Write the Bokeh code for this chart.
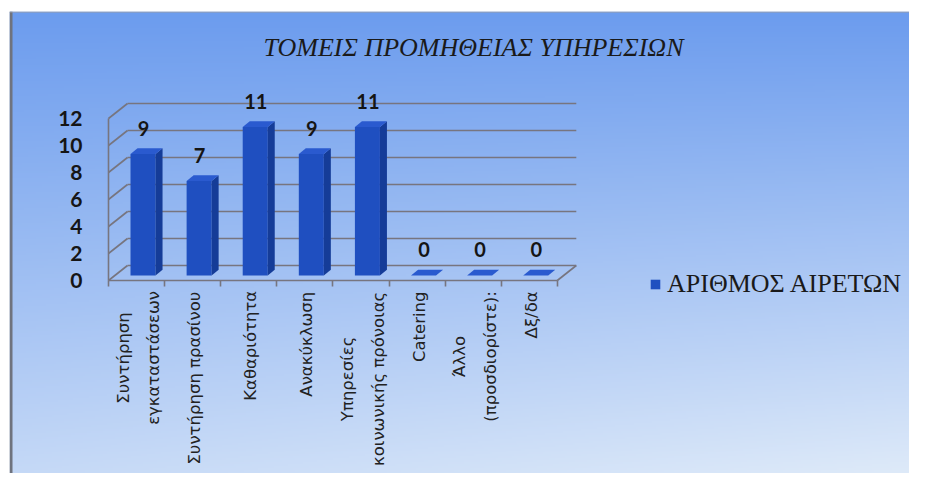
import unicodedata
import numpy as np
from math import pi
from bokeh.plotting import figure
from bokeh.models import FixedTicker, Legend, LegendItem, Span, LinearAxis
from bokeh.core.properties import value
from bokeh.embed import file_html
from bokeh.resources import INLINE

# ---------------- data ----------------
title_text = "ΤΟΜΕΙΣ ΠΡΟΜΗΘΕΙΑΣ ΥΠΗΡΕΣΙΩΝ"
categories = [
    "Συντήρηση\nεγκαταστάσεων",
    "Συντήρηση πρασίνου",
    "Καθαριότητα",
    "Ανακύκλωση",
    "Υπηρεσίες\nκοινωνικής πρόνοιας",
    "Catering",
    "Άλλο\n(προσδιορίστε):",
    "Δξ/δα",
]
counts = [9, 7, 11, 9, 11, 0, 0, 0]
y_ticks = [0, 2, 4, 6, 8, 10, 12]
series_name = "ΑΡΙΘΜΟΣ ΑΙΡΕΤΩΝ"

# ---------------- geometry (styles) ----------------
W, H = 909, 473
BL, BT = 9, 11
PX_X, PX_Y = 56.1, 13.5          # pixels per data unit
DX, DY = 19 / PX_X, 15 / PX_Y    # 3-D depth offset
F0, F1 = 0.34, 0.71              # bar depth span
BW = 25 / PX_X                   # bar width
LABEL_DX = 7 / PX_X              # data-label horizontal shift
SERIF = "Liberation Serif, Times New Roman, serif"
CAT_FONT_PX = 16.5
CAT_STANDOFF = 11

# approximate DejaVu Sans advance widths (em) used to centre rotated label blocks
_EM = {" ": 0.318, "(": 0.39, ")": 0.39, ":": 0.337, "/": 0.337,
       "C": 0.698, "a": 0.613, "t": 0.392, "e": 0.615, "r": 0.411, "i": 0.278, "n": 0.634, "g": 0.635,
       "α": 0.659, "β": 0.638, "γ": 0.592, "δ": 0.612, "ε": 0.541, "ζ": 0.544, "η": 0.634,
       "θ": 0.612, "ι": 0.338, "κ": 0.589, "λ": 0.592, "μ": 0.636, "ν": 0.592, "ξ": 0.544,
       "ο": 0.612, "π": 0.602, "ρ": 0.635, "ς": 0.55, "σ": 0.634, "τ": 0.559, "υ": 0.579,
       "φ": 0.815, "χ": 0.592, "ψ": 0.815, "ω": 0.838,
       "Α": 0.684, "Κ": 0.656, "Σ": 0.632, "Υ": 0.611, "Δ": 0.684}


def line_px(s):
    tot = 0.0
    for ch in s:
        base_ch = unicodedata.normalize("NFD", ch)[0]
        tot += _EM.get(base_ch, 0.6)
    return tot * CAT_FONT_PX


x0_px, y0_px = 108, 280          # canvas px of (0.5, 0)
x_start = 0.5 + (BL - x0_px) / PX_X
x_end = 0.5 + (W - x0_px) / PX_X
y_end = (y0_px - BT) / PX_Y
y_start = -(H - y0_px) / PX_Y

p = figure(width=W, height=H, x_range=(x_start, x_end), y_range=(y_start, y_end),
           output_backend="svg", toolbar_location=None,
           x_axis_location=None, y_axis_location=None,
           min_border_left=BL, min_border_top=BT, min_border_right=0, min_border_bottom=0,
           border_fill_color="white", outline_line_color=None)
p.grid.visible = False

# ---------------- gradient background ----------------
gh, gw = 236, 454
ii, jj = np.mgrid[0:gh, 0:gw]
vt = 1 - ii / (gh - 1)
hh = jj / (gw - 1)
t = np.clip(vt * (0.78 + 0.22 * hh), 0, 1)
c0 = np.array([108, 156, 238])
c1 = np.array([222, 234, 249])
img = np.empty((gh, gw), dtype=np.uint32)
view = img.view(dtype=np.uint8).reshape((gh, gw, 4))
for c in range(3):
    view[:, :, c] = (c0[c] + (c1[c] - c0[c]) * t).astype(np.uint8)
view[:, :, 3] = 255
p.image_rgba(image=[img], x=x_start, y=y_start, dw=x_end - x_start, dh=y_end - y_start)

# frame edges
p.add_layout(Span(location=x_start + 1.5 / PX_X, dimension="height", line_color="#6f737e", line_width=3))
p.add_layout(Span(location=y_end - 0.5 / PX_Y, dimension="width", line_color="#9a9ea8", line_width=1))

GRID = "#77757f"
n = len(categories)
xs_left, xs_right = 0.5, n + 0.5

# back wall gridlines and side-wall diagonals
p.segment(x0=[xs_left + DX] * len(y_ticks), y0=[v + DY for v in y_ticks],
          x1=[xs_right + DX] * len(y_ticks), y1=[v + DY for v in y_ticks],
          line_color=GRID, line_width=1.6)
p.segment(x0=[xs_left] * len(y_ticks), y0=y_ticks,
          x1=[xs_left + DX] * len(y_ticks), y1=[v + DY for v in y_ticks],
          line_color=GRID, line_width=1.6)
p.segment(x0=[xs_right], y0=[0], x1=[xs_right + DX], y1=[DY], line_color=GRID, line_width=1.6)

# ---------------- bars ----------------
cx = np.arange(1, n + 1)
vals = np.array(counts, dtype=float)
fx = cx + F0 * DX
base = F0 * DY
tops = vals + base
ddx, ddy = (F1 - F0) * DX, (F1 - F0) * DY

side_xs, side_ys, top_xs, top_ys = [], [], [], []
for xc, tp in zip(fx, tops):
    xl, xr = xc - BW / 2, xc + BW / 2
    side_xs.append([xr, xr + ddx, xr + ddx, xr])
    side_ys.append([base, base + ddy, tp + ddy, tp])
    top_xs.append([xl, xr, xr + ddx, xl + ddx])
    top_ys.append([tp, tp, tp + ddy, tp + ddy])

front = p.vbar(x=fx, bottom=base, top=tops, width=BW, fill_color="#1f4fc0", line_color=None)
p.patches(side_xs, side_ys, fill_color="#153c98", line_color=None)
p.patches(top_xs, top_ys, fill_color="#2a5acf", line_color=None)

# data labels
p.text(x=cx + LABEL_DX, y=vals + 2.26, text=[str(c) for c in counts],
       text_font=value("Lato"), text_font_style="bold", text_font_size="20px",
       text_color="#151515", text_align="center", text_baseline="middle")

# title
p.text(x=[0.5 + (473 - x0_px) / PX_X], y=[(y0_px - 47) / PX_Y], text=[title_text],
       text_font=value(SERIF), text_font_style="italic", text_font_size="26px",
       text_color="#1a1a1a", text_align="center", text_baseline="middle")

# category labels: rotated, block top-aligned under the axis, lines centred
offsets = [CAT_STANDOFF + max(line_px(s) for s in lab.split("\n")) / 2 for lab in categories]
p.text(x=cx + 2 / PX_X, y=[0] * n, text=categories, angle=pi / 2, anchor="center",
       y_offset=offsets, text_align="center", text_baseline="middle", text_line_height=1.6,
       text_font=value("DejaVu Sans"), text_font_size=f"{CAT_FONT_PX}px", text_color="#222222")

# ---------------- axes ----------------
yax = LinearAxis(fixed_location=xs_left, bounds=(min(y_ticks), max(y_ticks)),
                 ticker=FixedTicker(ticks=y_ticks))
yax.axis_line_color = GRID
yax.axis_line_width = 1.6
yax.major_tick_in = 0
yax.major_tick_out = 0
yax.minor_tick_line_color = None
yax.major_label_standoff = 26
yax.major_label_text_font = "Lato"
yax.major_label_text_font_style = "bold"
yax.major_label_text_font_size = "21px"
yax.major_label_text_color = "#151515"
p.add_layout(yax, "left")

xax = LinearAxis(fixed_location=0, bounds=(xs_left, xs_right),
                 ticker=FixedTicker(ticks=[], minor_ticks=[k + 0.5 for k in range(n + 1)]))
xax.axis_line_color = GRID
xax.axis_line_width = 1.6
xax.major_tick_line_color = None
xax.minor_tick_in = 0
xax.minor_tick_out = 6
xax.minor_tick_line_color = GRID
xax.minor_tick_line_width = 1.6
p.add_layout(xax, "below")

# ---------------- legend ----------------
legend = Legend(items=[LegendItem(label=series_name, renderers=[front])],
                location=(640, 174), background_fill_alpha=0, border_line_color=None,
                padding=0, margin=0, glyph_width=12, glyph_height=12, label_standoff=6,
                label_text_font=SERIF, label_text_font_size="26px",
                label_text_color="#1a1a1a")
p.add_layout(legend)

open("out.html", "w").write(file_html(p, INLINE))
